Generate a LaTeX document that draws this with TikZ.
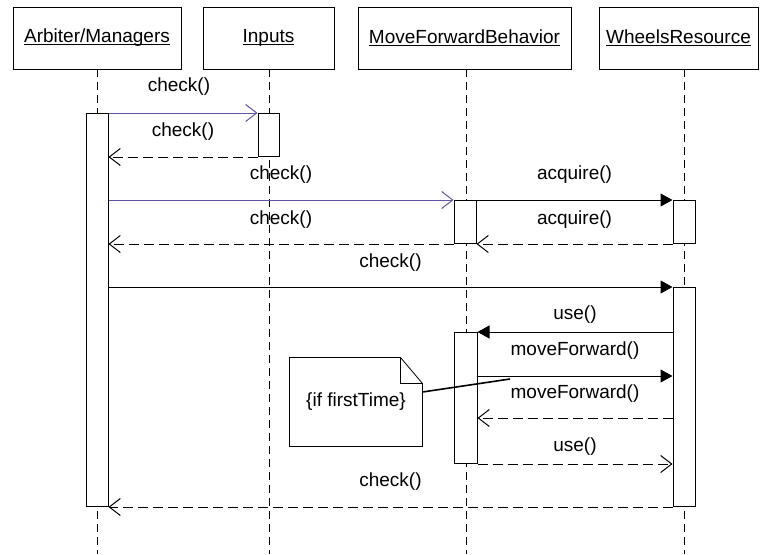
\documentclass[tikz,border=0pt]{standalone}
\usepackage{fontspec}
\setmainfont{Liberation Sans}
\usetikzlibrary{arrows.meta}
\definecolor{callblue}{RGB}{95,85,160}
% object names are underlined just below the baseline
\newcommand\underlined[1]{\setbox0\hbox{#1}\rlap{\rule[-2pt]{\wd0}{1pt}}\box0}
\begin{document}
\begin{tikzpicture}[x=1pt,y=-1pt, line width=1pt,
  font=\fontsize{19}{23}\selectfont,
  head/.style={draw, minimum height=62pt, inner sep=0pt},
  bar/.style={draw, fill=white, minimum width=22pt, inner sep=0pt, anchor=north},
  life/.style={dash pattern=on 8pt off 5pt},
  call/.style={-{Triangle[length=12pt,width=13pt]}},
  async/.style={callblue, -{Straight Barb[length=11pt,width=17pt]}},
  reply/.style={dash pattern=on 10pt off 5pt, -{Straight Barb[length=11pt,width=17pt]}},
  lbl/.style={midway, inner sep=0pt, text=black}]
\useasboundingbox (0,0) rectangle (767,554);
\coordinate (bottom) at (0,554);
\coordinate (mfwd) at (0,376);
\coordinate (mback) at (0,418);

% object heads
\node[head, minimum width=168pt] (hA) at (97,38) {\underlined{Arbiter/Managers}};
\node[head, minimum width=131pt] (hI) at (268.5,38) {\underlined{Inputs}};
\node[head, minimum width=213pt] (hM) at (464.5,38) {\underlined{MoveForwardBehavior}};
\node[head, minimum width=159pt] (hW) at (678.5,38) {\underlined{WheelsResource}};

% lifelines
\coordinate (lA) at (97,69);
\coordinate (lI) at (269,69);
\coordinate (lM) at (466,69);
\coordinate (lW) at (684,69);
\draw[life] (lA) -- (lA |- bottom);
\draw[life] (lI) -- (lI |- bottom);
\draw[life] (lM) -- (lM |- bottom);
\draw[life] (lW) -- (lW |- bottom);

% activation bars
\node[bar, minimum height=393pt] (bA) at (97,113) {};
\node[bar, minimum width=21pt, minimum height=43pt] (bI) at (268.5,113) {};
\node[bar, minimum height=43pt] (bM1) at (465,200) {};
\node[bar, minimum height=43pt] (bW1) at (684,200) {};
\node[bar, minimum height=219pt] (bW2) at (684,287) {};
\node[bar, minimum width=23pt, minimum height=131pt] (bM2) at (465.5,332) {};

% messages
\draw[async] (bA.east |- bI.north) -- node[lbl, yshift=26pt, xshift=-4pt]{check()} (bI.north west);
\draw[reply] (bI.south west) -- node[lbl, yshift=25pt]{check()} (bA.east |- bI.south);
\draw[async] (bA.east |- bM1.north) -- node[lbl, yshift=25pt]{check()} (bM1.north west);
\draw[reply] (bM1.south west) -- node[lbl, yshift=24pt]{check()} (bA.east |- bM1.south);
\draw[call] (bM1.north east) -- node[lbl, yshift=25pt]{acquire()} (bW1.north west);
\draw[reply] (bW1.south west) -- node[lbl, yshift=24pt]{acquire()} (bM1.south east);
\draw[call] (bA.east |- bW2.north) -- node[lbl, yshift=24pt]{check()} (bW2.north west);
\draw[call] (bW2.west |- bM2.north) -- node[lbl, yshift=17pt]{use()} (bM2.north east);
\draw[call] (bM2.east |- mfwd) -- node[lbl, yshift=25pt]{moveForward()} (bW2.west |- mfwd);
\draw[reply] (bW2.west |- mback) -- node[lbl, yshift=24pt]{moveForward()} (bM2.east |- mback);
\draw[reply] (bM2.south east) -- node[lbl, yshift=17pt]{use()} (bW2.west |- bM2.south);
\draw[reply] (bW2.south west) -- node[lbl, yshift=25pt]{check()} (bA.south east);

% note with folded corner
\node[inner sep=0pt, minimum width=132pt, minimum height=88pt] (note) at (356,402) {\{if firstTime\}};
\draw[line width=0.8pt] (note.north west) -- ([xshift=-22pt]note.north east)
  -- ([yshift=-26pt]note.north east) -- (note.south east) -- (note.south west) -- cycle;
\draw[line width=0.8pt] ([xshift=-22pt]note.north east) -- ([xshift=-22pt,yshift=-26pt]note.north east)
  -- ([yshift=-26pt]note.north east);
\coordinate (noteTip) at (510,379);
\draw[line width=1.6pt] ([yshift=10pt]note.east) -- (noteTip);
\end{tikzpicture}
\end{document}
